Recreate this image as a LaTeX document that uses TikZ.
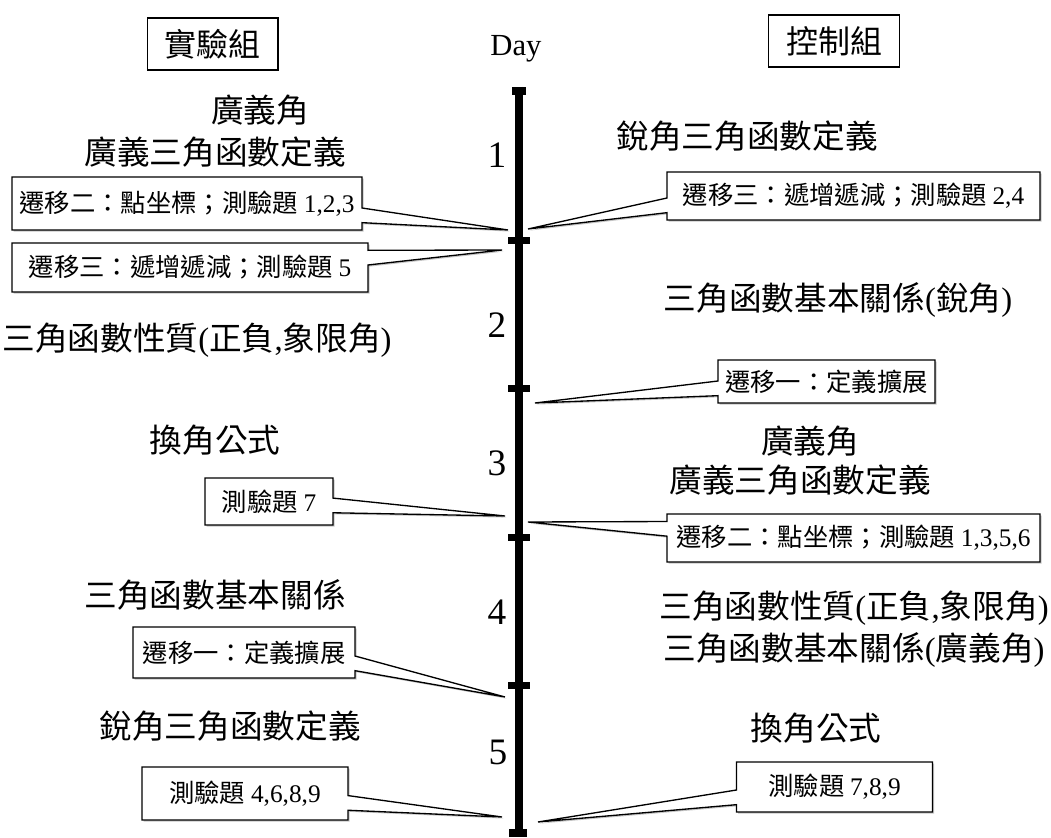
\documentclass[tikz,border=0pt]{standalone}
\usepackage{fontspec}
\setmainfont{Liberation Serif}
\newfontfamily\cjk{Noto Sans CJK TC}
\usetikzlibrary{shapes.callouts,shadows}
\newcommand\latn[1]{{\rmfamily #1}}
\begin{document}
\begin{tikzpicture}[x=0.75pt,y=-0.75pt,
  topic/.style={font=\cjk\fontsize{24.5}{28}\selectfont, inner sep=0pt},
  header/.style={draw, line width=1pt, font=\cjk\fontsize{24}{28}\selectfont,
    minimum width=98pt, minimum height=39pt, inner sep=0pt},
  note/.style={rectangle callout, draw, line width=1pt, fill=white,
    font=\cjk\fontsize{19}{22}\selectfont, inner sep=0pt,
    callout pointer width=11pt,
    drop shadow={shadow xshift=1.2pt, shadow yshift=-1.2pt, fill=black!45}},
  daynum/.style={font=\fontsize{28}{32}\selectfont, inner sep=0pt},
  timeline/.style={line width=6pt},
  tickmark/.style={line width=5.25pt},
]
\useasboundingbox (0,0) rectangle (1051,838);

% headers
\node[header] (exp) at (212.5,44) {實驗組};
\node[header] (ctl) at (834,41) {控制組};
\node[font=\fontsize{23}{26}\selectfont, inner sep=0pt] (day) at (516,49) {Day};

% timeline
\coordinate (top) at (519,87);
\coordinate (bot) at (519,837);
\draw[timeline] (top) -- (bot);
\coordinate (c0) at (519,91);
\coordinate (t1) at (519,240.5);
\coordinate (t2) at (519,389);
\coordinate (t3) at (519,537);
\coordinate (t4) at (519,685);
\coordinate (c5) at (518,833);
\draw[line width=6pt] ([xshift=-4.9pt]c0) -- ([xshift=4.9pt]c0);
\foreach \t in {t1,t2,t3,t4}
  \draw[tickmark] ([xshift=-8.25pt]\t) -- ([xshift=8.25pt]\t);
\draw[line width=6pt] ([xshift=-6.75pt]c5) -- ([xshift=6.75pt]c5);

% day numbers
\node[daynum] (d1) at (497,155) {1};
\node[daynum] (d2) at (497,325) {2};
\node[daynum] (d3) at (497,463) {3};
\node[daynum] (d4) at (497,612) {4};
\node[daynum] (d5) at (498,752) {5};

% pointer targets
\coordinate (pl1) at (508,230);
\coordinate (pl2) at (502,250);
\coordinate (pl3) at (505,516);
\coordinate (pl4) at (505,697);
\coordinate (pl5) at (502,817);
\coordinate (pr1) at (528,229);
\coordinate (pr2) at (535,403);
\coordinate (pr3) at (528,522);
\coordinate (pr4) at (538,822);

% left column
\node[topic] (lA) at (260,110) {廣義角};
\node[topic] (lB) at (215,152) {廣義三角函數定義};
\node[note, minimum width=262.5pt, minimum height=39.75pt, callout absolute pointer={(pl1)}]
  (nl1) at (187,203.5) {遷移二：點坐標；測驗題 \latn{1,2,3}};
\node[note, minimum width=267pt, minimum height=36.75pt, callout absolute pointer={(pl2)}]
  (nl2) at (190,267.5) {遷移三：遞增遞減；測驗題 \latn{5}};
\node[topic] (lC) at (197,340) {三角函數性質\latn{(}正負\latn{,}象限角\latn{)}};
\node[topic] (lD) at (215,440) {換角公式};
\node[note, minimum width=96pt, minimum height=35.25pt, callout absolute pointer={(pl3)}]
  (nl3) at (269,501.5) {測驗題 \latn{7}\hspace{22pt}};
\node[topic] (lE) at (215,595) {三角函數基本關係};
\node[note, minimum width=166.5pt, minimum height=38.25pt, callout absolute pointer={(pl4)}]
  (nl4) at (244,652.5) {遷移一：定義擴展};
\node[topic] (lF) at (230,726) {銳角三角函數定義};
\node[note, minimum width=154.5pt, minimum height=39.75pt, callout absolute pointer={(pl5)}]
  (nl5) at (245,793.5) {測驗題 \latn{4,6,8,9}};

% right column
\node[topic] (rA) at (747,136) {銳角三角函數定義};
\node[note, minimum width=279.75pt, minimum height=36pt, callout absolute pointer={(pr1)}]
  (nr1) at (853.5,196) {遷移三：遞增遞減；測驗題 \latn{2,4}};
\node[topic] (rB) at (838,300) {三角函數基本關係\latn{(}銳角\latn{)}};
\node[note, minimum width=162.75pt, minimum height=32.25pt, callout absolute pointer={(pr2)}]
  (nr2) at (826.5,381.5) {遷移一：定義擴展};
\node[topic] (rC) at (810,441) {廣義角};
\node[topic] (rD) at (800,480) {廣義三角函數定義};
\node[note, minimum width=279.75pt, minimum height=36pt, callout absolute pointer={(pr3)}]
  (nr3) at (853.5,538) {遷移二：點坐標；測驗題 \latn{1,3,5,6}};
\node[topic] (rE) at (854,608) {三角函數性質\latn{(}正負\latn{,}象限角\latn{)}};
\node[topic] (rF) at (854,650) {三角函數基本關係\latn{(}廣義角\latn{)}};
\node[topic] (rG) at (816,728) {換角公式};
\node[note, minimum width=147pt, minimum height=37.5pt, callout absolute pointer={(pr4)}]
  (nr4) at (834.5,787) {測驗題 \latn{7,8,9}};
\end{tikzpicture}
\end{document}
